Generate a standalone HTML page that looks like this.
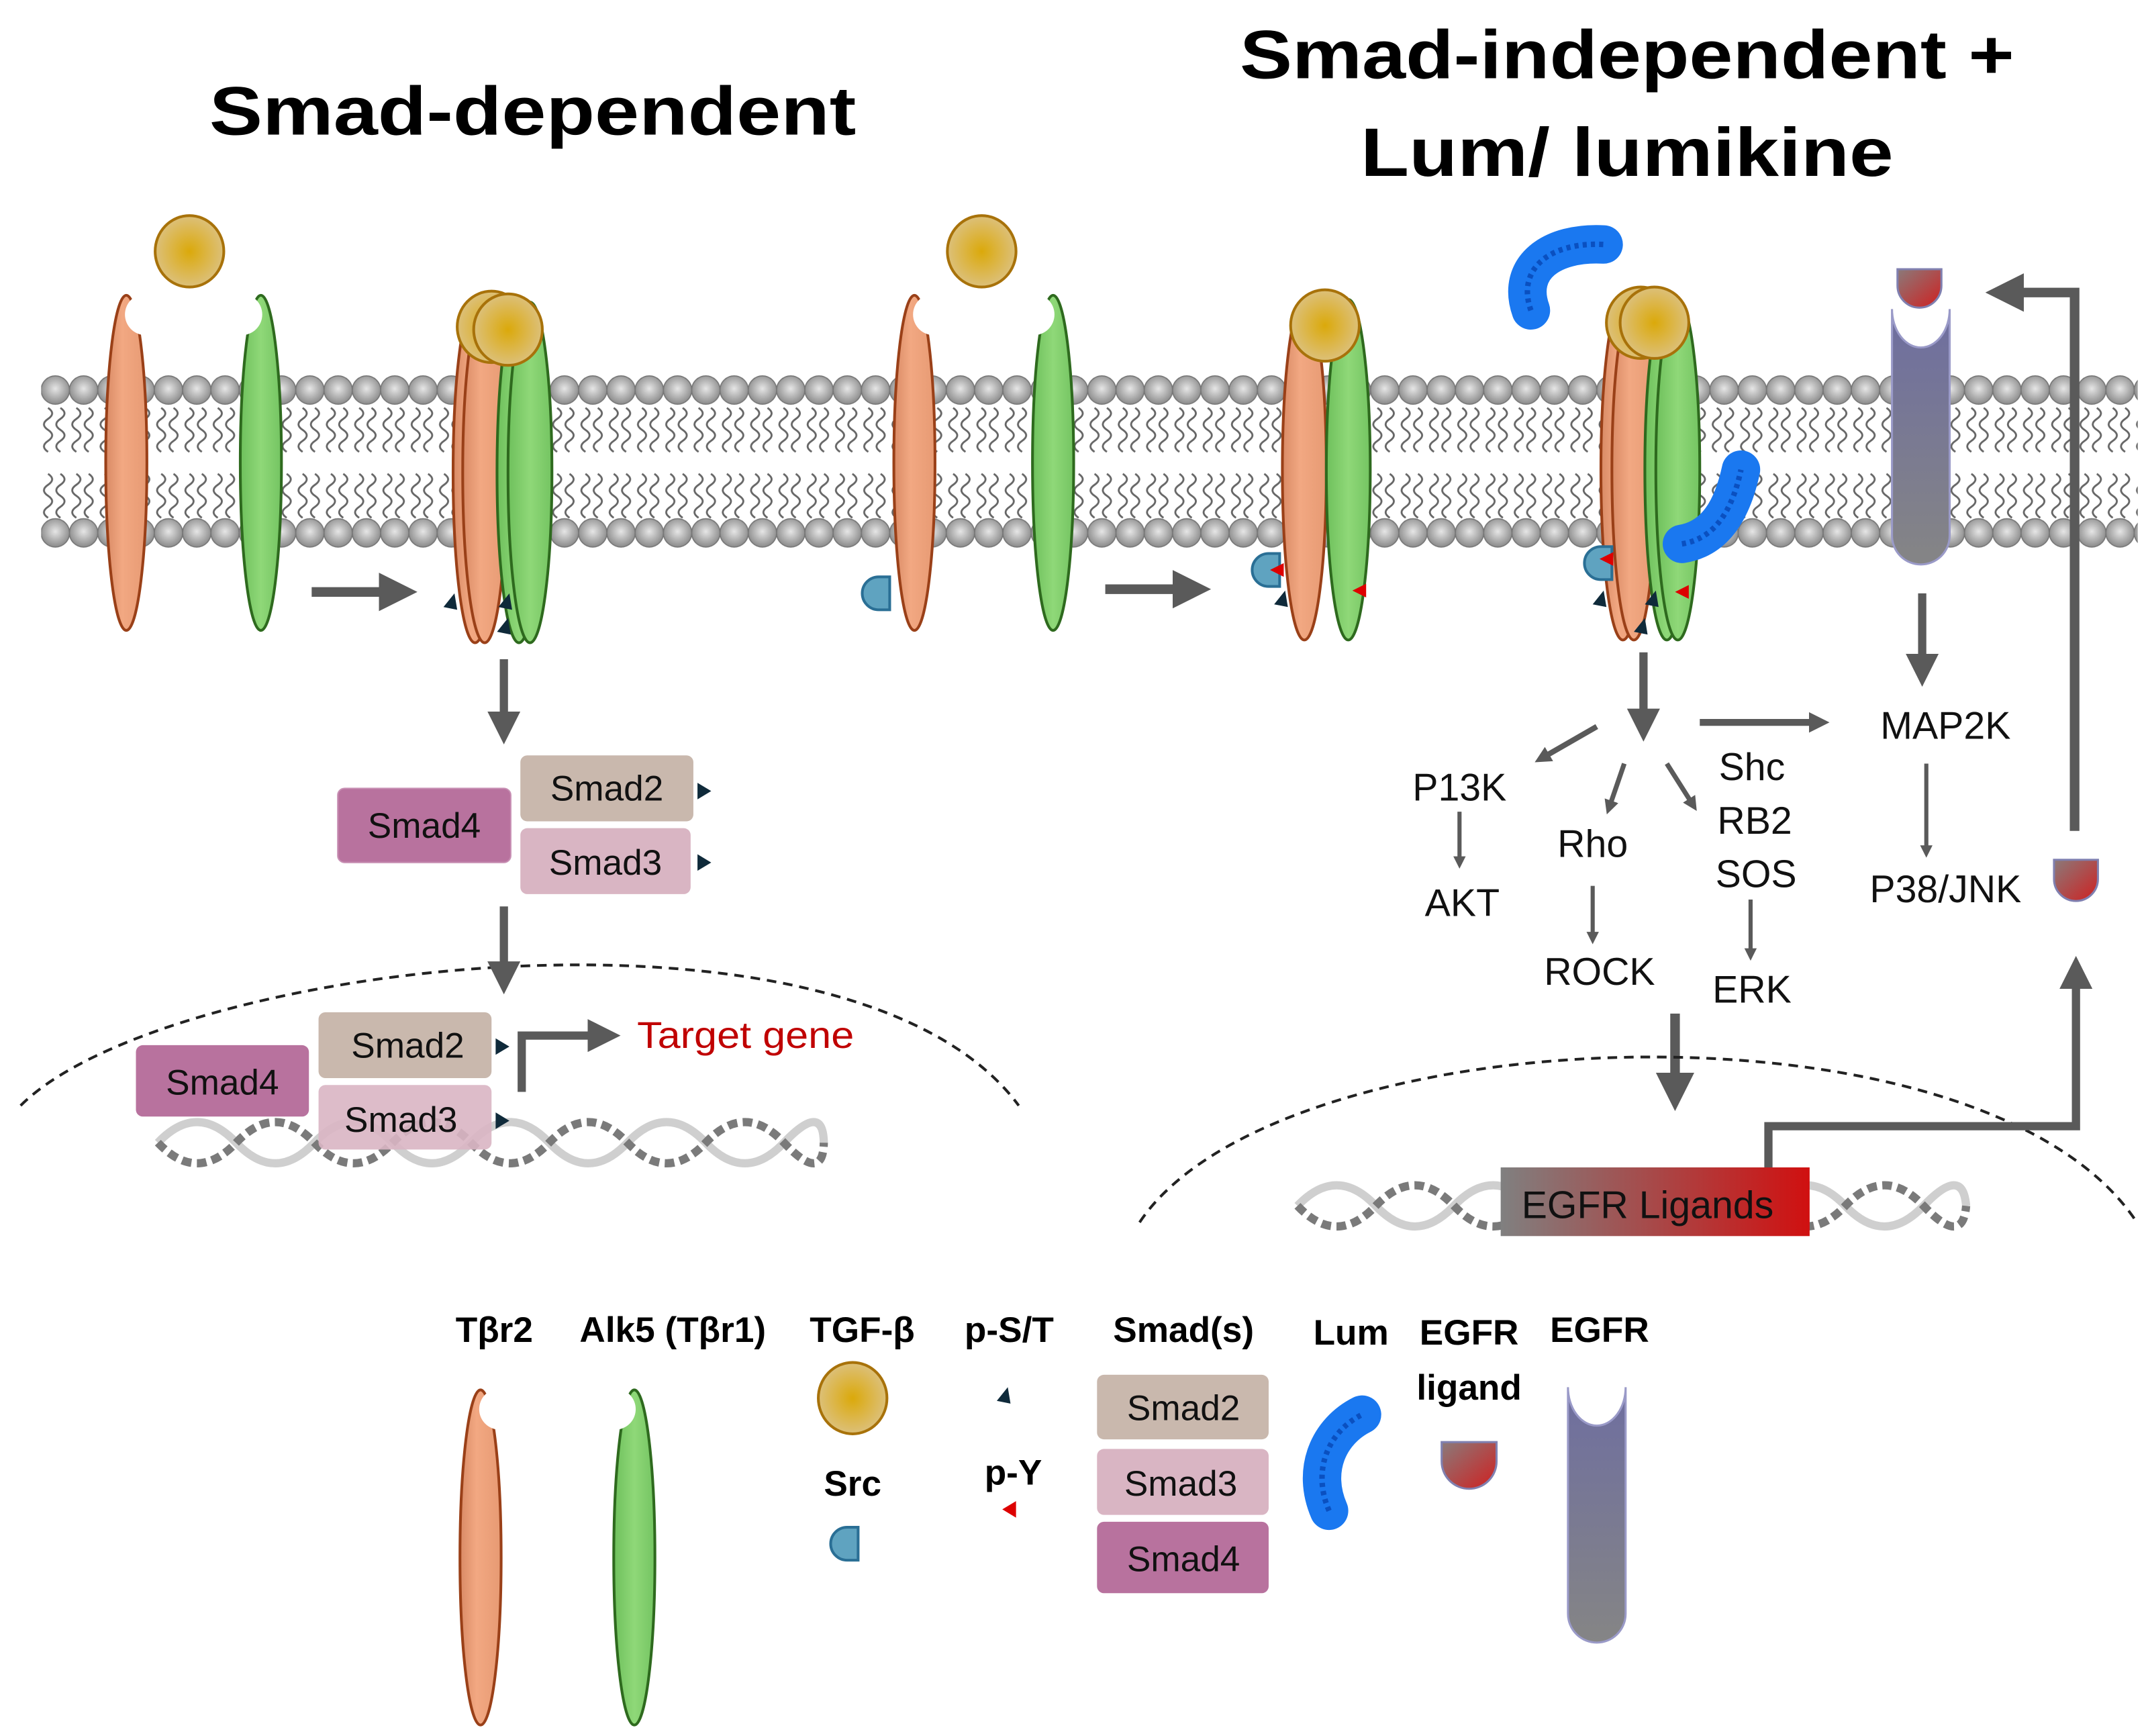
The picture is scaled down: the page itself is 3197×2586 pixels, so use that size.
<!DOCTYPE html>
<html><head><meta charset="utf-8"><style>
html,body{margin:0;padding:0;background:#fff;}
svg{display:block;}
.t{font-family:"Liberation Sans",sans-serif;font-size:28px;fill:#111;text-anchor:middle;}
.s{font-family:"Liberation Sans",sans-serif;font-size:26px;fill:#111;text-anchor:middle;}
.b{font-family:"Liberation Sans",sans-serif;font-weight:bold;fill:#000;text-anchor:middle;}
</style></head><body>
<svg width="3197" height="2586" viewBox="0 0 1563 1264" preserveAspectRatio="none" xmlns="http://www.w3.org/2000/svg">
<defs>
<radialGradient id="headG" cx="0.5" cy="0.45" r="0.55"><stop offset="0" stop-color="#e6e6e6"/><stop offset="1" stop-color="#8a8a8a"/></radialGradient>
<radialGradient id="ballG" cx="0.5" cy="0.5" r="0.5"><stop offset="0" stop-color="#dba90a"/><stop offset="1" stop-color="#dcc07a"/></radialGradient>
<linearGradient id="or" x1="0" x2="1"><stop offset="0" stop-color="#d98a65"/><stop offset="0.4" stop-color="#f2a882"/><stop offset="1" stop-color="#e79a73"/></linearGradient>
<linearGradient id="gr" x1="0" x2="1"><stop offset="0" stop-color="#6ec05c"/><stop offset="0.5" stop-color="#8fd878"/><stop offset="1" stop-color="#74c462"/></linearGradient>
<linearGradient id="eg" x1="0" y1="0" x2="0" y2="1"><stop offset="0" stop-color="#6e6ea0"/><stop offset="1" stop-color="#858585"/></linearGradient>
<linearGradient id="lig" x1="0" y1="0" x2="1" y2="1"><stop offset="0" stop-color="#8a7a7a"/><stop offset="1" stop-color="#d02020"/></linearGradient>
<linearGradient id="egl" x1="0" x2="1"><stop offset="0" stop-color="#808080"/><stop offset="1" stop-color="#d01010"/></linearGradient>
<pattern id="heads1" x="30" y="272" width="20.6" height="24" patternUnits="userSpaceOnUse"><circle cx="10.3" cy="12" r="10.3" fill="url(#headG)" stroke="#777" stroke-width="0.8"/></pattern>
<pattern id="heads2" x="30" y="376" width="20.6" height="24" patternUnits="userSpaceOnUse"><circle cx="10.3" cy="12" r="10.3" fill="url(#headG)" stroke="#777" stroke-width="0.8"/></pattern>
<pattern id="tails1" x="30" y="296" width="20.6" height="36" patternUnits="userSpaceOnUse"><path d="M5,1 q6,4 0,8 q-6,4 0,8 q6,4 0,8 q-6,4 0,8 M14,1 q6,4 0,8 q-6,4 0,8 q6,4 0,8 q-6,4 0,8" fill="none" stroke="#666" stroke-width="1.4"/></pattern>
<pattern id="tails2" x="30" y="344" width="20.6" height="36" patternUnits="userSpaceOnUse"><path d="M5,1 q6,4 0,8 q-6,4 0,8 q6,4 0,8 q-6,4 0,8 M14,1 q6,4 0,8 q-6,4 0,8 q6,4 0,8 q-6,4 0,8" fill="none" stroke="#666" stroke-width="1.4"/></pattern>
<marker id="ah" markerWidth="4" markerHeight="4" refX="2" refY="2" orient="auto" markerUnits="strokeWidth"><path d="M0,0 L4,2 L0,4z" fill="#5a5a5a"/></marker>
<marker id="ah2" markerWidth="3" markerHeight="3" refX="1.5" refY="1.5" orient="auto" markerUnits="strokeWidth"><path d="M0,0 L3,1.5 L0,3z" fill="#5a5a5a"/></marker>
<g id="orR"><ellipse cx="0" cy="122" rx="15" ry="122" fill="url(#or)" stroke="#9a4018" stroke-width="2"/><circle cx="14" cy="14" r="15" fill="#fff"/></g>
<g id="grR"><ellipse cx="0" cy="122" rx="15" ry="122" fill="url(#gr)" stroke="#2e6a1e" stroke-width="2"/><circle cx="-14" cy="14" r="15" fill="#fff"/></g>
<g id="orC"><ellipse cx="0" cy="124" rx="16" ry="124" fill="url(#or)" stroke="#9a4018" stroke-width="2"/></g>
<g id="grC"><ellipse cx="0" cy="124" rx="16" ry="124" fill="url(#gr)" stroke="#2e6a1e" stroke-width="2"/></g>
<g id="tgf"><ellipse cx="0" cy="0" rx="25" ry="26" fill="url(#ballG)" stroke="#a8720a" stroke-width="2"/></g>
<g id="src"><path d="M0,-12 L8,-12 L8,12 L0,12 A12,12 0 0 1 0,-12z" fill="#5fa3c0" stroke="#2a6f95" stroke-width="2"/></g>
</defs>

<!-- Titles -->
<text class="b" x="388" y="98" font-size="50" textLength="471" lengthAdjust="spacingAndGlyphs">Smad-dependent</text>
<text class="b" x="1185" y="57" font-size="50" textLength="564" lengthAdjust="spacingAndGlyphs">Smad-independent +</text>
<text class="b" x="1185" y="128" font-size="50" textLength="388" lengthAdjust="spacingAndGlyphs">Lum/ lumikine</text>

<!-- membrane -->
<rect x="30" y="272" width="1527" height="24" fill="url(#heads1)"/>
<rect x="30" y="296" width="1527" height="36" fill="url(#tails1)"/>
<rect x="30" y="344" width="1527" height="34" fill="url(#tails2)"/>
<rect x="30" y="376" width="1527" height="24" fill="url(#heads2)"/>

<!-- panel 1 -->
<use href="#tgf" x="138" y="183"/>
<use href="#orR" x="92" y="215"/>
<use href="#grR" x="190" y="215"/>
<line x1="227" y1="431" x2="290" y2="431" stroke="#5a5a5a" stroke-width="7" marker-end="url(#ah)"/>
<use href="#orC" x="346" y="220"/>
<use href="#orC" x="353" y="220"/>
<use href="#grC" x="378" y="220"/>
<use href="#grC" x="386" y="220"/>
<use href="#tgf" x="358" y="238"/>
<use href="#tgf" x="370" y="240"/>
<path d="M323,442 l8,-10 l2,12z M363,442 l8,-10 l2,12z M362,460 l8,-10 l2,12z" fill="#0f2a3a"/>

<!-- panel 2 -->
<use href="#tgf" x="715" y="183"/>
<use href="#orR" x="666" y="215"/>
<use href="#grR" x="767" y="215"/>
<use href="#src" x="640" y="432"/>
<line x1="805" y1="429" x2="868" y2="429" stroke="#5a5a5a" stroke-width="7" marker-end="url(#ah)"/>
<use href="#orC" x="950" y="218"/>
<use href="#grC" x="982" y="218"/>
<use href="#tgf" x="965" y="237"/>
<use href="#src" x="924" y="415"/>
<path d="M935,410 l-10,5 l10,5z M995,425 l-10,5 l10,5z" fill="#d00"/>
<path d="M928,440 l8,-10 l2,12z" fill="#0f2a3a"/>

<!-- panel 3 -->
<path d="M1115,226 C1104,195 1130,176 1168,178" fill="none" stroke="#1a78f0" stroke-width="28" stroke-linecap="round"/>
<path d="M1115,226 C1104,195 1130,176 1168,178" fill="none" stroke="#0a50c0" stroke-width="4" stroke-dasharray="3 3"/>
<use href="#orC" x="1182" y="218"/>
<use href="#orC" x="1190" y="218"/>
<use href="#grC" x="1214" y="218"/>
<use href="#grC" x="1222" y="218"/>
<use href="#tgf" x="1195" y="235"/>
<use href="#tgf" x="1205" y="235"/>
<use href="#src" x="1166" y="410"/>
<path d="M1175,402 l-10,5 l10,5z M1230,426 l-10,5 l10,5z" fill="#d00"/>
<path d="M1160,440 l8,-10 l2,12z M1198,440 l8,-10 l2,12z M1190,460 l8,-10 l2,12z" fill="#0f2a3a"/>
<path d="M1225,396 C1250,392 1262,370 1268,342" fill="none" stroke="#1a78f0" stroke-width="28" stroke-linecap="round"/>
<path d="M1225,396 C1250,392 1262,370 1268,342" fill="none" stroke="#0a50c0" stroke-width="4" stroke-dasharray="3 3"/>

<!-- EGFR -->
<path d="M1378,225 L1378,390 A21,21 0 0 0 1420,390 L1420,225 A21,28 0 0 1 1378,225z" fill="url(#eg)" stroke="#9a9ac8" stroke-width="1.5"/>
<path d="M1382,196 L1414,196 L1414,208 A16,16 0 0 1 1382,208z" fill="url(#lig)" stroke="#8080b0" stroke-width="1.5"/>
<polyline points="1511,605 1511,213 1460,213" fill="none" stroke="#5a5a5a" stroke-width="7" marker-end="url(#ah)"/>
<line x1="1400" y1="432" x2="1400" y2="488" stroke="#5a5a5a" stroke-width="6" marker-end="url(#ah)"/>

<!-- pathways -->
<line x1="1197" y1="475" x2="1197" y2="528" stroke="#5a5a5a" stroke-width="6" marker-end="url(#ah)"/>
<line x1="1238" y1="526" x2="1325" y2="526" stroke="#5a5a5a" stroke-width="5" marker-end="url(#ah2)"/>
<line x1="1163" y1="529" x2="1123" y2="552" stroke="#5a5a5a" stroke-width="4" marker-end="url(#ah2)"/>
<line x1="1183" y1="556" x2="1172" y2="588" stroke="#5a5a5a" stroke-width="3.5" marker-end="url(#ah2)"/>
<line x1="1214" y1="556" x2="1233" y2="586" stroke="#5a5a5a" stroke-width="3.5" marker-end="url(#ah2)"/>
<line x1="1063" y1="591" x2="1063" y2="628" stroke="#5a5a5a" stroke-width="3" marker-end="url(#ah2)"/>
<line x1="1160" y1="645" x2="1160" y2="683" stroke="#5a5a5a" stroke-width="3" marker-end="url(#ah2)"/>
<line x1="1275" y1="655" x2="1275" y2="695" stroke="#5a5a5a" stroke-width="3" marker-end="url(#ah2)"/>
<line x1="1403" y1="556" x2="1403" y2="620" stroke="#5a5a5a" stroke-width="3" marker-end="url(#ah2)"/>
<text class="t" x="1417" y="538">MAP2K</text>
<text class="t" x="1063" y="583">P13K</text>
<text class="t" x="1065" y="667">AKT</text>
<text class="t" x="1160" y="624">Rho</text>
<text class="t" x="1165" y="717">ROCK</text>
<text class="t" x="1276" y="568">Shc</text>
<text class="t" x="1278" y="607">RB2</text>
<text class="t" x="1279" y="646">SOS</text>
<text class="t" x="1276" y="730">ERK</text>
<text class="t" x="1417" y="657">P38/JNK</text>
<path d="M1496,626 L1528,626 L1528,640 A16,16 0 0 1 1496,640z" fill="url(#lig)" stroke="#8080b0" stroke-width="1.5"/>
<line x1="1220" y1="738" x2="1220" y2="795" stroke="#5a5a5a" stroke-width="7" marker-end="url(#ah)"/>

<!-- nuclei -->
<path d="M15,805 C120,700 620,640 742,805" fill="none" stroke="#222" stroke-width="2" stroke-dasharray="7 5"/>
<path d="M830,890 C930,740 1440,720 1555,888" fill="none" stroke="#222" stroke-width="2" stroke-dasharray="7 5"/>

<!-- DNA -->
<g fill="none" stroke-width="6">
<path d="M115,832 q28.5,-30 57,0 t57,0 t57,0 t57,0 t57,0 t57,0 t57,0 t57,0 t29,0" stroke="#cfcfcf"/>
<path d="M115,832 q28.5,30 57,0 t57,0 t57,0 t57,0 t57,0 t57,0 t57,0 t57,0 t29,0" stroke="#7a7a7a" stroke-dasharray="7 4"/>
<path d="M945,878 q28.5,-30 57,0 t57,0 t57,0 t57,0 t57,0 t57,0 t57,0 t57,0 t31,0" stroke="#cfcfcf"/>
<path d="M945,878 q28.5,30 57,0 t57,0 t57,0 t57,0 t57,0 t57,0 t57,0 t57,0 t31,0" stroke="#7a7a7a" stroke-dasharray="7 4"/>
</g>
<rect x="1093" y="850" width="225" height="50" fill="url(#egl)"/>
<text class="t" x="1200" y="887">EGFR Ligands</text>
<polyline points="1288,850 1288,820 1512,820 1512,708" fill="none" stroke="#5a5a5a" stroke-width="6" marker-end="url(#ah)"/>

<!-- Smad cytoplasm -->
<line x1="367" y1="480" x2="367" y2="530" stroke="#5a5a5a" stroke-width="6" marker-end="url(#ah)"/>
<rect x="246" y="574" width="126" height="54" rx="5" fill="#b8729e" stroke="#c890b4"/>
<rect x="379" y="550" width="126" height="48" rx="5" fill="#c9b8ad"/>
<rect x="379" y="603" width="124" height="48" rx="5" fill="#d9b5c3"/>
<text class="s" x="309" y="610">Smad4</text>
<text class="s" x="442" y="583">Smad2</text>
<text class="s" x="441" y="637">Smad3</text>
<path d="M508,570 l10,6 l-10,6z M508,622 l10,6 l-10,6z" fill="#0f2a3a"/>
<line x1="367" y1="660" x2="367" y2="712" stroke="#5a5a5a" stroke-width="6" marker-end="url(#ah)"/>

<!-- Smad nucleus -->
<rect x="99" y="761" width="126" height="52" rx="5" fill="#b8729e"/>
<rect x="232" y="737" width="126" height="48" rx="5" fill="#c9b8ad"/>
<rect x="232" y="790" width="126" height="47" rx="5" fill="#d9b5c3" fill-opacity="0.9"/>
<text class="s" x="162" y="797">Smad4</text>
<text class="s" x="297" y="770">Smad2</text>
<text class="s" x="292" y="824">Smad3</text>
<path d="M361,756 l10,6 l-10,6z M361,810 l10,6 l-10,6z" fill="#0f2a3a"/>
<polyline points="380,795 380,754 440,754" fill="none" stroke="#5a5a5a" stroke-width="6" marker-end="url(#ah)"/>
<text x="543" y="763" font-family="'Liberation Sans',sans-serif" font-size="27" fill="#c00000" text-anchor="middle" textLength="158" lengthAdjust="spacingAndGlyphs">Target gene</text>

<!-- Legend -->
<text class="b" x="360" y="977" font-size="26">Tβr2</text>
<text class="b" x="490" y="977" font-size="26">Alk5 (Tβr1)</text>
<text class="b" x="628" y="977" font-size="26">TGF-β</text>
<text class="b" x="735" y="977" font-size="26">p-S/T</text>
<text class="b" x="862" y="977" font-size="26">Smad(s)</text>
<text class="b" x="984" y="979" font-size="26">Lum</text>
<text class="b" x="1070" y="979" font-size="26">EGFR</text>
<text class="b" x="1070" y="1019" font-size="26">ligand</text>
<text class="b" x="1165" y="977" font-size="26">EGFR</text>
<text class="b" x="621" y="1089" font-size="26">Src</text>
<text class="b" x="738" y="1081" font-size="26">p-Y</text>
<use href="#orR" x="350" y="1012"/>
<use href="#grR" x="462" y="1012"/>
<use href="#tgf" x="621" y="1018"/>
<use href="#src" x="617" y="1124"/>
<path d="M726,1020 l8,-10 l2,12z" fill="#0f2a3a"/>
<path d="M740,1093 l-10,6 l10,6z" fill="#d00"/>
<rect x="799" y="1001" width="125" height="47" rx="5" fill="#c9b8ad"/>
<rect x="799" y="1055" width="125" height="48" rx="5" fill="#d9b5c3"/>
<rect x="799" y="1108" width="125" height="52" rx="5" fill="#b8729e"/>
<text class="s" x="862" y="1034">Smad2</text>
<text class="s" x="860" y="1089">Smad3</text>
<text class="s" x="862" y="1144">Smad4</text>
<path d="M968,1100 C955,1070 968,1042 992,1030" fill="none" stroke="#1a78f0" stroke-width="28" stroke-linecap="round"/>
<path d="M968,1100 C955,1070 968,1042 992,1030" fill="none" stroke="#0a50c0" stroke-width="4" stroke-dasharray="3 3"/>
<path d="M1050,1050 L1090,1050 L1090,1064 A20,20 0 0 1 1050,1064z" fill="url(#lig)" stroke="#8080b0" stroke-width="1.5"/>
<path d="M1142,1010 L1142,1175 A21,21 0 0 0 1184,1175 L1184,1010 A21,28 0 0 1 1142,1010z" fill="url(#eg)" stroke="#9a9ac8" stroke-width="1.5"/>
</svg>
</body></html>
